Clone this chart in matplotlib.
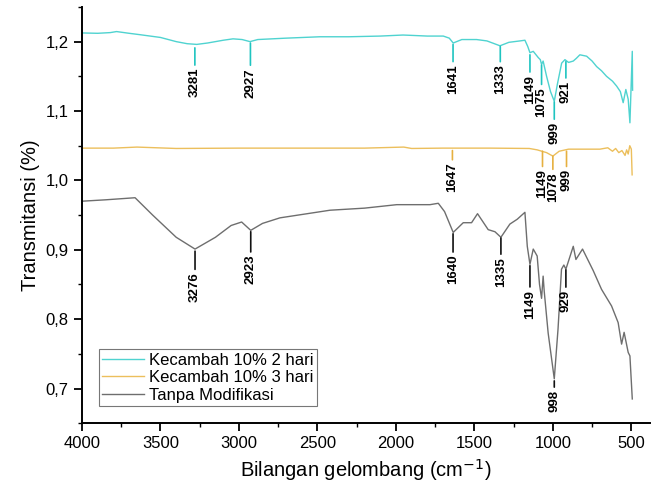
import numpy as np
import matplotlib
matplotlib.use("Agg")
import matplotlib.pyplot as plt
from matplotlib.ticker import MultipleLocator, FuncFormatter

plt.rcParams['font.family'] = ['Liberation Sans', 'DejaVu Sans']

# --- spectra (wavenumber, transmittance) ---
wn_2hari = [4000, 3900, 3820, 3780, 3700, 3631, 3500, 3400, 3330, 3269, 3200, 3100, 3038,
            2980, 2930, 2880, 2700, 2484, 2300, 2100, 1955, 1900, 1800, 1698, 1660, 1635,
            1580, 1486, 1420, 1337, 1280, 1210, 1178, 1160, 1146, 1125, 1093, 1080, 1072,
            1062, 1040, 1015, 991, 970, 944, 923, 900, 870, 850, 828, 785, 750, 721, 690,
            658, 620, 594, 570, 552, 535, 520, 509, 494, 492]
t_2hari = [1.2125, 1.212, 1.213, 1.2145, 1.212, 1.210, 1.206, 1.200, 1.197, 1.196, 1.198, 1.202, 1.204,
           1.203, 1.200, 1.203, 1.205, 1.207, 1.207, 1.208, 1.2095, 1.209, 1.208, 1.208, 1.205, 1.198,
           1.203, 1.203, 1.201, 1.194, 1.199, 1.201, 1.202, 1.193, 1.184, 1.186, 1.177, 1.174, 1.167,
           1.172, 1.150, 1.128, 1.114, 1.140, 1.169, 1.174, 1.170, 1.172, 1.176, 1.181, 1.179, 1.172, 1.164, 1.158,
           1.150, 1.143, 1.136, 1.128, 1.112, 1.131, 1.117, 1.083, 1.186, 1.130]

wn_3hari = [4000, 3800, 3650, 3400, 3000, 2600, 2200, 1950, 1900, 1700, 1400, 1150, 1100,
            1040, 1000, 960, 900, 800, 700, 650, 620, 600, 580, 560, 540, 530, 520, 510,
            500, 495]
t_3hari = [1.0465, 1.0465, 1.048, 1.046, 1.0465, 1.0465, 1.0465, 1.048, 1.046, 1.0465, 1.0465, 1.046, 1.044,
           1.040, 1.035, 1.042, 1.045, 1.045, 1.045, 1.047, 1.042, 1.046, 1.040, 1.043, 1.036, 1.044, 1.038, 1.050,
           1.045, 1.008]

wn_tanpa = [4000, 3850, 3662, 3550, 3400, 3280, 3150, 3050, 2983, 2925, 2850, 2739, 2420,
            2200, 1995, 1783, 1730, 1690, 1635, 1571, 1518, 1480, 1412, 1369, 1331, 1274,
            1227, 1178, 1163, 1146, 1125, 1100, 1085, 1072, 1062, 1055, 1030, 991, 967, 945,
            930, 917, 870, 853, 811, 743, 690, 626, 584, 562, 546, 520, 509, 494]
t_tanpa = [0.970, 0.972, 0.975, 0.950, 0.918, 0.901, 0.918, 0.935, 0.940, 0.928, 0.938, 0.946, 0.957,
           0.960, 0.965, 0.965, 0.967, 0.955, 0.925, 0.939, 0.939, 0.952, 0.929, 0.926, 0.918, 0.937,
           0.944, 0.954, 0.905, 0.879, 0.901, 0.891, 0.850, 0.830, 0.862, 0.840, 0.780, 0.714, 0.786, 0.872,
           0.878, 0.872, 0.905, 0.886, 0.901, 0.870, 0.843, 0.819, 0.795, 0.764, 0.781, 0.752, 0.747, 0.685]

series = [
    ("Kecambah 10% 2 hari", wn_2hari, t_2hari, '#4fd3d0', '#1fc4c0'),
    ("Kecambah 10% 3 hari", wn_3hari, t_3hari, '#ecbf5c', '#e6b040'),
    ("Tanpa Modifikasi", wn_tanpa, t_tanpa, '#6e6e6e', '#111111'),
]

# peak labels: (text, wavenumber where the mark sits, top of mark, mark length in px)
peaks_2hari = [("3281", 3281, 1.191, 20), ("2927", 2927, 1.198, 25), ("1641", 1636, 1.196, 20),
               ("1333", 1335, 1.193, 18), ("1149", 1146, 1.181, 20), ("1075", 1072, 1.166, 22),
               ("999", 991, 1.113, 20), ("921", 917, 1.171, 19)]
peaks_3hari = [("1647", 1640, 1.043, 12), ("1149", 1066, 1.042, 18), ("1078", 1000, 1.035, 16),
               ("999", 913, 1.042, 18)]
peaks_tanpa = [("3276", 3280, 0.898, 21), ("2923", 2925, 0.926, 23), ("1640", 1636, 0.923, 21),
               ("1335", 1331, 0.917, 19), ("1149", 1146, 0.877, 24), ("929", 917, 0.871, 20),
               ("998", 991, 0.711, 9)]
peak_sets = [peaks_2hari, peaks_3hari, peaks_tanpa]

fig = plt.figure(figsize=(6.51, 4.95), dpi=100)
ax = fig.add_axes([0.126, 0.145, 0.872, 0.841])

for (name, wn, t, col, mark_col), peaks in zip(series, peak_sets):
    ax.plot(wn, t, color=col, linewidth=1.0, label=name)
    for txt, x, y, length in peaks:
        ax.annotate(txt, xy=(x, y), xytext=(0, -length * 0.72), textcoords='offset points',
                    rotation=90, ha='center', va='top', fontsize=9.5, fontweight='bold',
                    arrowprops=dict(arrowstyle='-', color=mark_col, lw=1.2,
                                    shrinkA=0, shrinkB=0))

ax.set_xlim(4000, 383)
ax.set_ylim(0.65, 1.25)
ax.spines['top'].set_visible(False)
ax.spines['right'].set_visible(False)
ax.spines['left'].set_linewidth(1.4)
ax.spines['bottom'].set_linewidth(1.4)

ax.xaxis.set_major_locator(MultipleLocator(500))
ax.xaxis.set_minor_locator(MultipleLocator(250))
ax.yaxis.set_major_locator(MultipleLocator(0.1))
ax.yaxis.set_minor_locator(MultipleLocator(0.05))
ax.yaxis.set_major_formatter(FuncFormatter(lambda v, p: f"{v:.1f}".replace('.', ',')))
ax.tick_params(which='major', direction='out', length=6, width=1.3, labelsize=12)
ax.tick_params(which='minor', direction='out', length=3, width=1.0)

ax.set_xlabel('Bilangan gelombang (cm$^{-1}$)', fontsize=14.5)
ax.set_ylabel('Transmitansi (%)', fontsize=14.5)

leg = ax.legend(loc='lower left', bbox_to_anchor=(0.03, 0.041), borderaxespad=0,
                fontsize=12, frameon=True, fancybox=False, handlelength=2.5,
                labelspacing=0.15, borderpad=0.2, handletextpad=0.3)
leg.get_frame().set_edgecolor('#555555')
leg.get_frame().set_linewidth(0.8)

fig.savefig('out.png', dpi=100)
